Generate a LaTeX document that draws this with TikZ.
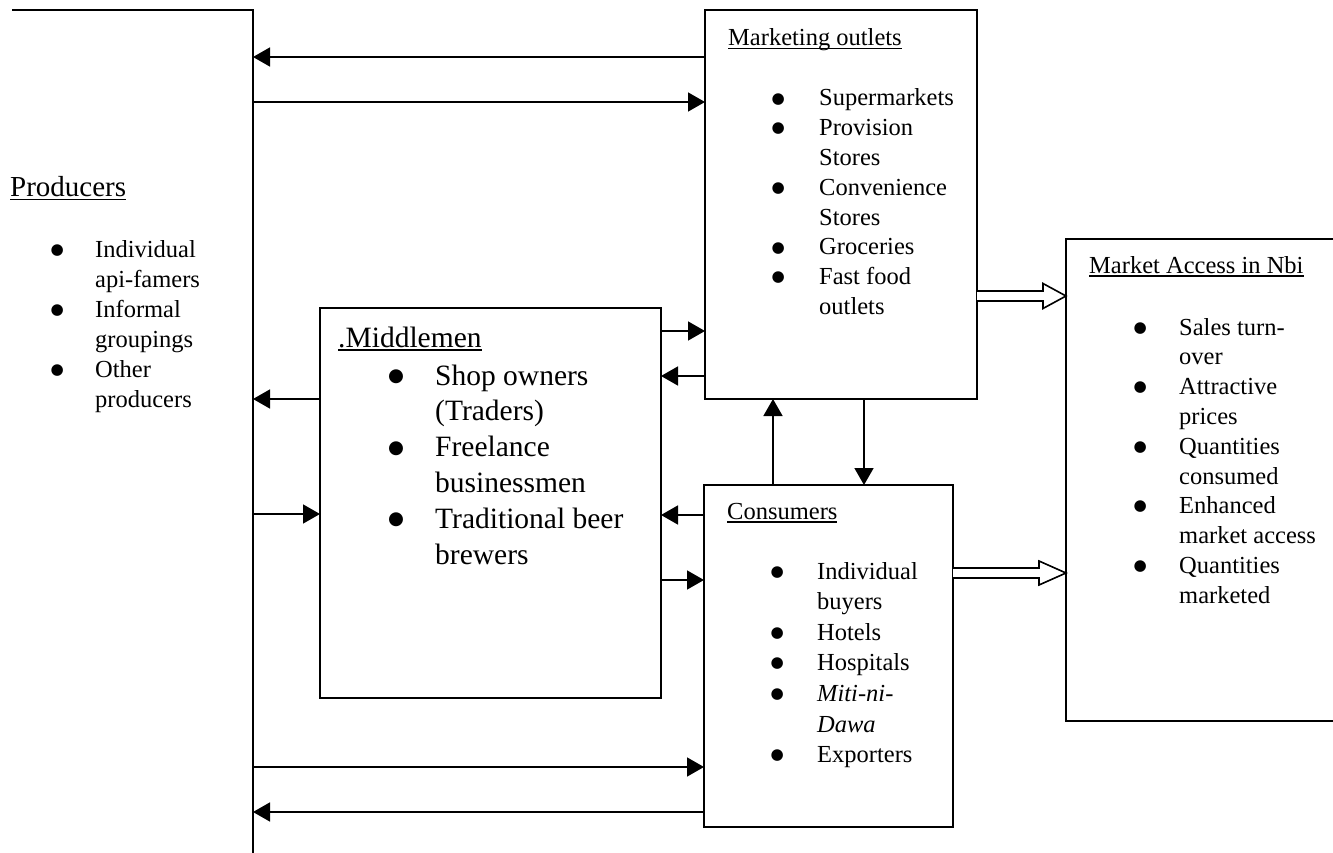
\documentclass[tikz,border=0pt]{standalone}
\usepackage{fontspec}
\setmainfont{Liberation Serif}
\newfontfamily\symf{DejaVu Sans}
\usetikzlibrary{arrows.meta,calc}
\newlength\bgap
\newcommand\B{\makebox[0pt][c]{\raisebox{0.12em}{\symf\fontsize{0.62em}{0.62em}\selectfont ●}}\hspace*{\bgap}}
\newcommand\N{\hspace*{\bgap}}
\newcommand\uln[1]{\setbox0\hbox{#1}\rlap{\rule[-3.5pt]{\wd0}{1.3pt}}\box0}
\begin{document}
\begin{tikzpicture}[x=1pt,y=-1pt,
  box/.style={draw, line width=1.6pt, inner sep=0, outer sep=0},
  arr/.style={line width=1.6pt, -{Triangle[length=17pt,width=19pt]}},
  lst/.style={anchor=base west, inner sep=0},
  ttl/.style={anchor=base west, inner sep=0},
  hollow/.style={line width=1.6pt, fill=white, line join=miter},
  small/.style={font=\fontsize{24.5}{30}\selectfont}
]
\useasboundingbox (0,0) rectangle (1333,853);
\clip (0,0) rectangle (1333,853);
\fill[white] (0,0) rectangle (1333,853);

% boxes
\node[inner sep=0, outer sep=0, minimum width=241pt, minimum height=890pt] (prod) at (132.5,455) {};
\draw[line width=1.6pt] (prod.north west) -- (prod.north east) -- (prod.south east);
\node[box, minimum width=272pt, minimum height=389pt] (mo) at (841,204.5) {};
\node[box, minimum width=341pt, minimum height=390pt] (mid) at (490.5,503) {};
\node[box, minimum width=249pt, minimum height=342pt] (con) at (828.5,656) {};
\node[box, minimum width=279pt, minimum height=482pt] (mac) at (1205.5,480) {};

% titles
\node[ttl, font=\fontsize{29}{35}\selectfont] (tprod) at (10,197) {\uln{Producers}};
\node[ttl, small] (tmo) at (728,46) {\uln{Marketing outlets}};
\node[ttl, font=\fontsize{29.5}{36}\selectfont] (tmid) at (338,347) {\uln{.Middlemen}};
\node[ttl, small] (tcon) at (727,519) {\uln{Consumers}};
\node[ttl, small] (tmac) at (1089,273) {\uln{Market Access in Nbi}};

% lists
\node[lst, font=\fontsize{24.5}{30}\selectfont] (lprod) at (57,257) {\bgap=38pt\begin{tabular}[t]{@{}l@{}}
\B Individual\\ \N api-famers\\ \B Informal\\ \N groupings\\ \B Other\\ \N producers\end{tabular}};
\node[lst, font=\fontsize{24.5}{29.8}\selectfont] (lmo) at (778,106) {\bgap=41pt\begin{tabular}[t]{@{}l@{}}
\B Supermarkets\\ \B Provision\\ \N Stores\\ \B Convenience\\ \N Stores\\ \B Groceries\\ \B Fast food\\ \N outlets\end{tabular}};
\node[lst, font=\fontsize{29.5}{35.8}\selectfont] (lmid) at (396,385) {\bgap=39pt\begin{tabular}[t]{@{}l@{}}
\B Shop owners\\ \N (Traders)\\ \B Freelance\\ \N businessmen\\ \B Traditional beer\\ \N brewers\end{tabular}};
\node[lst, font=\fontsize{24.5}{30.6}\selectfont] (lcon) at (777,579) {\bgap=40pt\begin{tabular}[t]{@{}l@{}}
\B Individual\\ \N buyers\\ \B Hotels\\ \B Hospitals\\ \B \textit{Miti-ni-}\\ \N \textit{Dawa}\\ \B Exporters\end{tabular}};
\node[lst, font=\fontsize{24.5}{29.8}\selectfont] (lmac) at (1140,335) {\bgap=39pt\begin{tabular}[t]{@{}l@{}}
\B Sales turn-\\ \N over\\ \B Attractive\\ \N prices\\ \B Quantities\\ \N consumed\\ \B Enhanced\\ \N market access\\ \B Quantities\\ \N marketed\end{tabular}};

% connectors
\draw[arr] (mo.west |- 0,57) -- (prod.east |- 0,57);
\draw[arr] (prod.east |- 0,102) -- (mo.west |- 0,102);
\draw[arr] (mid.east |- 0,331) -- (mo.west |- 0,331);
\draw[arr] (mo.west |- 0,376) -- (mid.east |- 0,376);
\draw[arr] (mid.west |- 0,399) -- (prod.east |- 0,399);
\draw[arr] (prod.east |- 0,514) -- (mid.west |- 0,514);
\draw[arr] (con.west |- 0,515) -- (mid.east |- 0,515);
\draw[arr] (mid.east |- 0,580) -- (con.west |- 0,580);
\draw[arr] (con.north -| 773,0) -- (mo.south -| 773,0);
\draw[arr] (mo.south -| 864,0) -- (con.north -| 864,0);
\draw[arr] (prod.east |- 0,767) -- (con.west |- 0,767);
\draw[arr] (con.west |- 0,812) -- (prod.east |- 0,812);

% hollow arrows
\coordinate (ha1) at (mo.east |- 0,296);
\coordinate (hb1) at (mac.west |- 0,296);
\draw[hollow] ($(ha1)+(0,-5)$) -- ($(hb1)+(-23,-5)$) -- ($(hb1)+(-23,-12.5)$) -- (hb1)
  -- ($(hb1)+(-23,12.5)$) -- ($(hb1)+(-23,5)$) -- ($(ha1)+(0,5)$);
\coordinate (ha2) at (con.east |- 0,573);
\coordinate (hb2) at (mac.west |- 0,573);
\draw[hollow] ($(ha2)+(0,-5)$) -- ($(hb2)+(-27,-5)$) -- ($(hb2)+(-27,-12)$) -- (hb2)
  -- ($(hb2)+(-27,12)$) -- ($(hb2)+(-27,5)$) -- ($(ha2)+(0,5)$);
\end{tikzpicture}
\end{document}
